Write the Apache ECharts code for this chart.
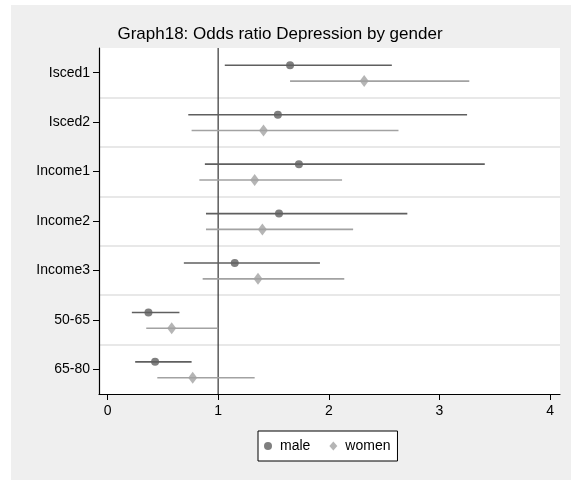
<!DOCTYPE html>
<html>
<head>
<meta charset="utf-8">
<script src="https://cdn.jsdelivr.net/npm/echarts@6/dist/echarts.min.js"></script>
<style>
html,body{margin:0;padding:0;background:#fff;}
#c{width:576px;height:484px;}
</style>
</head>
<body>
<div id="c"></div>
<script>
var categories = ['Isced1', 'Isced2', 'Income1', 'Income2', 'Income3', '50-65', '65-80'];
var maleOR  = [1.65, 1.54, 1.73, 1.55, 1.15, 0.37, 0.43];
var maleLo  = [1.06, 0.73, 0.88, 0.89, 0.69, 0.22, 0.25];
var maleHi  = [2.57, 3.25, 3.41, 2.71, 1.92, 0.65, 0.76];
var womenOR = [2.32, 1.41, 1.33, 1.40, 1.36, 0.58, 0.77];
var womenLo = [1.65, 0.76, 0.83, 0.89, 0.86, 0.35, 0.45];
var womenHi = [3.27, 2.63, 2.12, 2.22, 2.14, 1.00, 1.33];
var xTicks = [0, 1, 2, 3, 4];

var maleColor = '#5f5f5f';
var womenColor = '#a2a2a2';
var offM = -0.15, offW = 0.17;
var FONT = 'Liberation Sans, Arial, sans-serif';

function ciData(lo, hi, off) {
  return categories.map(function (c, i) { return [lo[i], hi[i], i + off]; });
}
function ptData(v, off) {
  return categories.map(function (c, i) { return [v[i], i + off]; });
}
function ciSeries(name, lo, hi, off, color) {
  return {
    type: 'custom', name: name, yAxisIndex: 1, silent: true, z: 2,
    data: ciData(lo, hi, off),
    encode: { x: [0, 1], y: 2 },
    renderItem: function (params, api) {
      var p1 = api.coord([api.value(0), api.value(2)]);
      var p2 = api.coord([api.value(1), api.value(2)]);
      return { type: 'line', shape: { x1: p1[0], y1: p1[1], x2: p2[0], y2: p2[1] },
               style: { stroke: color, lineWidth: 1.6 } };
    }
  };
}

var chart = echarts.init(document.getElementById('c'), null, { renderer: 'canvas' });
chart.setOption({
  animation: false,
  backgroundColor: '#ffffff',
  graphic: [{ type: 'rect', shape: { x: 11, y: 5, width: 560, height: 475 }, style: { fill: '#efefef' }, z: -10, silent: true }],
  title: {
    text: 'Graph18: Odds ratio Depression by gender',
    left: 275, top: 21, textAlign: 'center',
    textStyle: { fontFamily: FONT, fontSize: 17, fontWeight: 'normal', color: '#000' }
  },
  grid: { left: 99, top: 48, width: 461, height: 346, show: true, backgroundColor: '#ffffff', borderWidth: 0, containLabel: false },
  xAxis: {
    type: 'value', min: -0.077, max: 4.09,
    axisLine: { show: true, onZero: false, lineStyle: { color: '#000', width: 1.2 } },
    axisTick: { show: true, length: 6, lineStyle: { color: '#000' }, customValues: xTicks },
    axisLabel: { color: '#000', fontSize: 14, fontFamily: FONT, margin: 10, customValues: xTicks },
    splitLine: { show: false }
  },
  yAxis: [{
    type: 'category', data: categories, inverse: true,
    axisLine: { show: true, onZero: false, lineStyle: { color: '#000', width: 1.2 } },
    axisTick: { show: true, alignWithLabel: true, length: 6, lineStyle: { color: '#000' } },
    axisLabel: { color: '#000', fontSize: 14, fontFamily: FONT, margin: 9 },
    splitLine: { show: true, showMinLine: false, showMaxLine: false, lineStyle: { color: '#e8e8e8', width: 2 } }
  }, {
    type: 'value', min: -0.5, max: 6.5, inverse: true, show: false
  }],
  legend: {
    left: 258, top: 431, itemGap: 19,
    padding: [8, 7, 8, 6],
    backgroundColor: '#ffffff', borderColor: '#000', borderWidth: 1, borderRadius: 0,
    itemWidth: 8, itemHeight: 9,
    textStyle: { color: '#000', fontSize: 14, fontFamily: FONT, padding: [0, 0, 0, 3] },
    data: [{ name: 'male', icon: 'circle' }, { name: 'women', icon: 'diamond' }]
  },
  series: [
    ciSeries('maleCI', maleLo, maleHi, offM, maleColor),
    ciSeries('womenCI', womenLo, womenHi, offW, womenColor),
    {
      type: 'line', name: 'ref', yAxisIndex: 1, silent: true, symbol: 'none', z: 1,
      data: [[1, -0.5], [1, 6.5]],
      lineStyle: { color: '#333', width: 1.2 }
    },
    {
      type: 'scatter', name: 'male', yAxisIndex: 1, symbol: 'circle', symbolSize: 8, z: 4,
      itemStyle: { color: maleColor },
      data: ptData(maleOR, offM)
    },
    {
      type: 'scatter', name: 'women', yAxisIndex: 1, symbol: 'diamond', symbolSize: [9, 12], z: 4,
      itemStyle: { color: womenColor },
      data: ptData(womenOR, offW)
    }
  ]
});
</script>
</body>
</html>
